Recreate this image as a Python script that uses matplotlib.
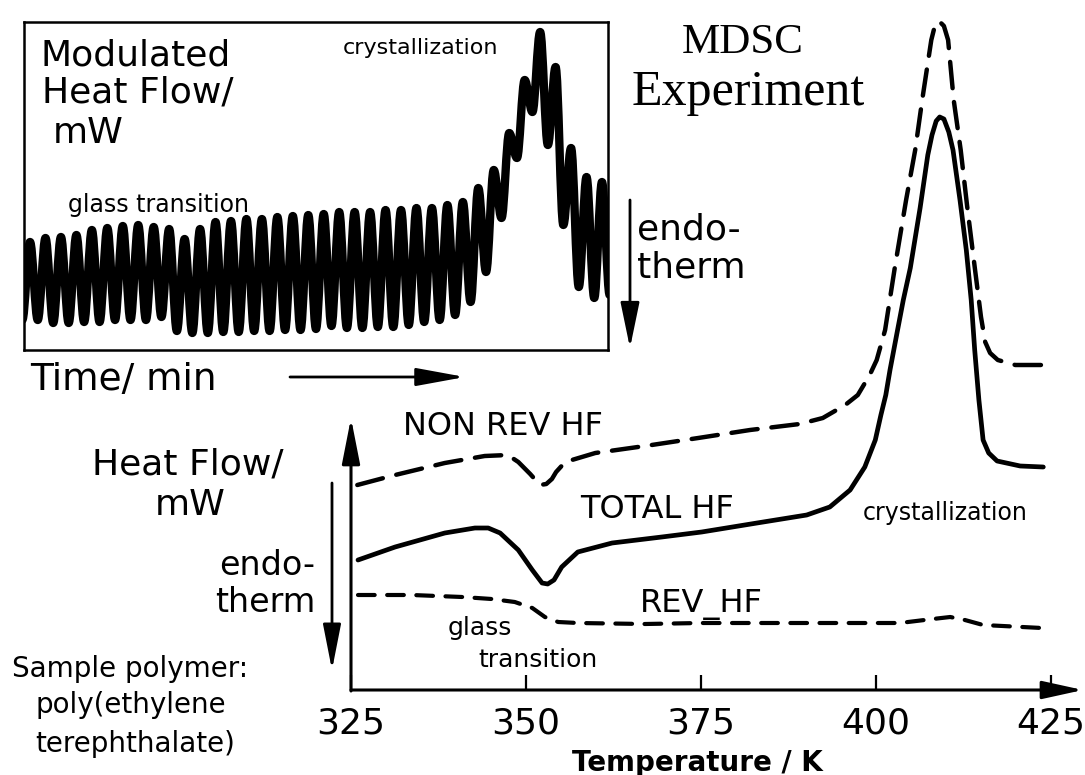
import matplotlib.pyplot as plt
from matplotlib.path import Path
from matplotlib.patches import PathPatch

plt.rcParams['font.family'] = ['DejaVu Sans']
plt.rcParams['lines.scale_dashes'] = False

W, H = 1085, 775

# modulated heat flow in the inset: top and bottom of every modulation cycle (mW)
crest_hf = [1.08, 1.12, 1.13, 1.15, 1.20, 1.22, 1.24, 1.25, 1.23, 1.21,
            1.11, 1.21, 1.28, 1.29, 1.31, 1.31, 1.33, 1.34, 1.35, 1.36,
            1.38, 1.38, 1.38, 1.40, 1.40, 1.42, 1.42, 1.45, 1.48, 1.62,
            1.80, 2.17, 2.70, 3.18, 2.83, 2.02, 1.73, 1.68]
trough_hf = [0.30, 0.27, 0.27, 0.28, 0.28, 0.30, 0.30, 0.30, 0.33,
             0.19, 0.17, 0.17, 0.18, 0.18, 0.19, 0.19, 0.20, 0.20, 0.21,
             0.24, 0.22, 0.22, 0.23, 0.23, 0.25, 0.28, 0.30, 0.35, 0.48,
             0.78, 1.32, 1.92, 2.38, 2.05, 1.25, 0.63, 0.52]
edge_hf = [0.30, 0.55]   # half cycles cut off by the frame, left and right

# deconvoluted curves against temperature (K, mW)
nonrev_T = [325.9, 331.3, 338.4, 344.1, 347.4, 348.9, 350.6, 352.0, 352.9, 353.7,
            354.3, 355.6, 359.9, 367.0, 374.6, 382.0, 389.1, 392.4, 395.6, 397.4,
            399.1, 400.1, 401.3, 402.7, 404.3, 405.6, 406.6, 407.9, 408.4, 409.0,
            409.7, 410.3, 411.1, 412.1, 413.0, 414.1, 415.0, 415.6, 416.3, 417.4,
            419.9, 423.9]
nonrev_hf = [2.05, 2.15, 2.27, 2.34, 2.35, 2.28, 2.16, 2.05, 2.06, 2.11,
             2.18, 2.28, 2.37, 2.44, 2.52, 2.60, 2.66, 2.72, 2.85, 2.95,
             3.15, 3.30, 3.60, 4.23, 4.90, 5.40, 5.90, 6.50, 6.64, 6.69,
             6.64, 6.50, 5.90, 5.40, 4.85, 4.23, 3.73, 3.48, 3.37, 3.30,
             3.25, 3.25]

total_T = [326.0, 331.3, 338.4, 342.7, 344.6, 346.3, 348.9, 350.9, 352.3, 353.1,
           354.0, 355.1, 357.4, 362.3, 369.4, 375.1, 383.0, 390.1, 393.4, 396.3,
           398.4, 399.9, 400.7, 401.4, 402.0, 403.0, 403.9, 404.9, 406.3, 407.4,
           408.0, 408.6, 409.1, 409.7, 410.4, 411.0, 412.0, 412.9, 413.6, 414.1,
           414.7, 415.3, 416.1, 417.3, 420.6, 423.9]
total_hf = [1.30, 1.43, 1.57, 1.62, 1.62, 1.57, 1.40, 1.20, 1.07, 1.06,
            1.10, 1.23, 1.38, 1.47, 1.53, 1.58, 1.67, 1.75, 1.83, 2.00,
            2.23, 2.50, 2.75, 2.95, 3.20, 3.57, 3.90, 4.22, 4.82, 5.35,
            5.55, 5.69, 5.73, 5.71, 5.58, 5.40, 4.90, 4.40, 3.90, 3.40,
            2.90, 2.50, 2.37, 2.29, 2.24, 2.23]

rev_T = [326.0, 333.7, 340.9, 345.1, 348.4, 350.9, 352.7, 354.6, 357.4, 367.0,
         374.9, 389.1, 403.4, 408.1, 410.6, 412.7, 415.3, 423.7]
rev_hf = [0.95, 0.95, 0.93, 0.91, 0.88, 0.82, 0.73, 0.68, 0.67, 0.66,
          0.67, 0.67, 0.67, 0.71, 0.73, 0.70, 0.65, 0.62]

temp_ticks = [325, 350, 375, 400, 425]


def at(x, y):
    # pixel position (from top left) -> figure fraction
    return x / W, 1 - y / H


def arrow(ax, x0, y0, x1, y1, hl, hw, lw=2.0):
    ax.annotate('', xy=(x1, H - y1), xycoords='figure pixels',
                xytext=(x0, H - y0), textcoords='figure pixels',
                annotation_clip=False,
                arrowprops=dict(arrowstyle=f'-|>,head_length={hl},head_width={hw}',
                                lw=lw, color='k', shrinkA=0, shrinkB=0,
                                mutation_scale=10))


fig = plt.figure(figsize=(W / 100, H / 100), dpi=100)

# main plot: heat flow vs temperature
ax = fig.add_axes([351 / W, 1 - 690 / H, 700 / W, 690 / H])
ax.set_xlim(325, 425)
ax.set_ylim(0, 6.9)
ax.patch.set_visible(False)
for s in ax.spines.values():
    s.set_visible(False)
ax.set_xticks(temp_ticks)
ax.set_yticks([])
ax.tick_params(axis='x', direction='in', length=11, width=1.6, pad=12,
               labelsize=26)

ax.plot(total_T, total_hf, color='k', lw=3.4, solid_joinstyle='round',
        solid_capstyle='round', clip_on=False)
ax.plot(nonrev_T, nonrev_hf, color='k', lw=3.2, dashes=(19, 10),
        dash_capstyle='round', dash_joinstyle='round', clip_on=False)
ax.plot(rev_T, rev_hf, color='k', lw=3.0, dashes=(12, 9),
        dash_capstyle='round', dash_joinstyle='round', clip_on=False)

# axes drawn as arrows
arrow(ax, 351, 690, 1083, 690, 2.5, 0.55, lw=2.2)
arrow(ax, 351, 691, 351, 418, 2.8, 0.55, lw=2.2)
arrow(ax, 332, 483, 332, 670, 2.8, 0.55, lw=2.0)

# inset: raw modulated signal vs time
ax_in = fig.add_axes([24 / W, 1 - 350 / H, 584 / W, 328 / H])
ax_in.set_xlim(-0.39, 37.39)
ax_in.set_ylim(0, 3.28)
ax_in.set_xticks([])
ax_in.set_yticks([])
for s in ax_in.spines.values():
    s.set_linewidth(1.8)

pts_t = [-0.5]
pts_v = [edge_hf[0]]
for k, c in enumerate(crest_hf):
    pts_t.append(k)
    pts_v.append(c)
    if k < len(trough_hf):
        pts_t.append(k + 0.5)
        pts_v.append(trough_hf[k])
pts_t.append(len(crest_hf) - 0.5)
pts_v.append(edge_hf[1])

# half-cosine swings between turning points as cubic Bezier segments
a = 0.364 * 0.5
verts = [(pts_t[0], pts_v[0])]
codes = [Path.MOVETO]
for t0, v0, t1, v1 in zip(pts_t, pts_v, pts_t[1:], pts_v[1:]):
    verts += [(t0 + a, v0), (t1 - a, v1), (t1, v1)]
    codes += [Path.CURVE4] * 3
ax_in.add_patch(PathPatch(Path(verts, codes), fill=False, lw=6.0, ec='k',
                          capstyle='round', joinstyle='round'))

arrow(ax, 630, 200, 630, 348, 2.8, 0.58, lw=2.0)
arrow(ax, 290, 377, 465, 377, 3.0, 0.55, lw=2.0)

# labels
fig.text(*at(40, 65), 'Modulated', fontsize=26, va='baseline')
fig.text(*at(42, 103), 'Heat Flow/', fontsize=26, va='baseline')
fig.text(*at(53, 143), 'mW', fontsize=26, va='baseline')
fig.text(*at(343, 54), 'crystallization', fontsize=16, va='baseline')
fig.text(*at(68, 212), 'glass transition', fontsize=17, va='baseline')
fig.text(*at(743, 53), 'MDSC', fontsize=31, va='baseline', ha='center',
         family='Liberation Serif')
fig.text(*at(748, 105), 'Experiment', fontsize=36, va='baseline', ha='center',
         family='Liberation Serif')
fig.text(*at(637, 240), 'endo-', fontsize=26, va='baseline')
fig.text(*at(637, 277), 'therm', fontsize=26, va='baseline')
fig.text(*at(30, 390), 'Time/ min', fontsize=27, va='baseline')

fig.text(*at(188, 475), 'Heat Flow/', fontsize=26, va='baseline', ha='center')
fig.text(*at(190, 515), 'mW', fontsize=26, va='baseline', ha='center')
fig.text(*at(315, 575), 'endo-', fontsize=24, va='baseline', ha='right')
fig.text(*at(315, 612), 'therm', fontsize=24, va='baseline', ha='right')
fig.text(*at(12, 677), 'Sample polymer:', fontsize=20, va='baseline')
fig.text(*at(35, 713), 'poly(ethylene', fontsize=20, va='baseline')
fig.text(*at(35, 752), 'terephthalate)', fontsize=20, va='baseline')

fig.text(*at(403, 435), 'NON REV HF', fontsize=23, va='baseline')
fig.text(*at(580, 518), 'TOTAL HF', fontsize=23, va='baseline')
fig.text(*at(863, 520), 'crystallization', fontsize=17, va='baseline')
fig.text(*at(640, 612), 'REV_HF', fontsize=23, va='baseline')
fig.text(*at(448, 635), 'glass', fontsize=18, va='baseline')
fig.text(*at(478, 667), 'transition', fontsize=18, va='baseline')
fig.text(*at(697, 771), 'Temperature / K', fontsize=20, va='baseline',
         ha='center', fontweight='bold')

fig.savefig('out.png', dpi=100)
